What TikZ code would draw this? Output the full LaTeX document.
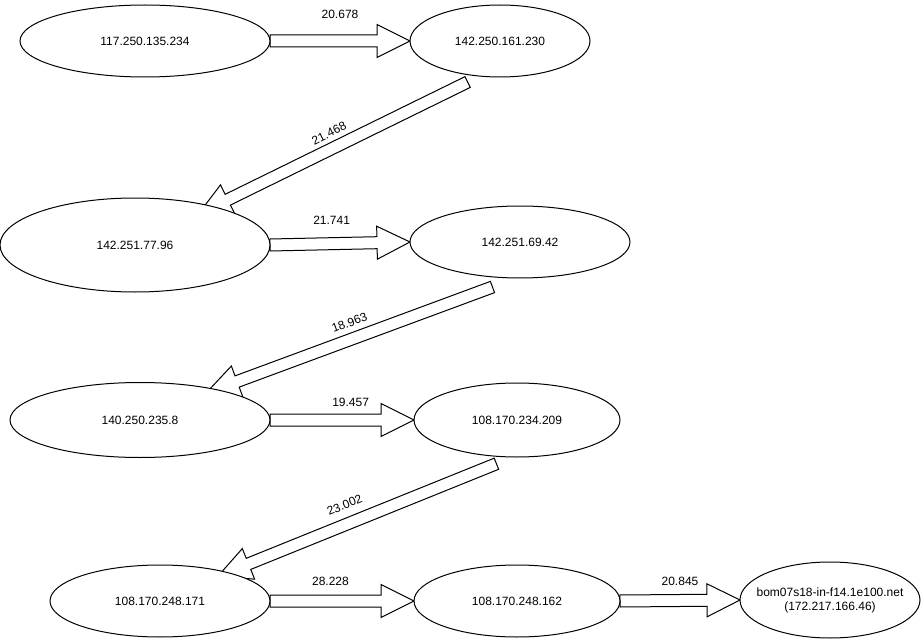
\documentclass[tikz,border=0pt]{standalone}
\usepackage{fontspec}
\setmainfont{Liberation Sans}
\usetikzlibrary{calc,shapes.geometric,backgrounds}
\tikzset{
  host/.style={ellipse, draw, fill=white, line width=1pt, inner sep=0pt, outer sep=0pt, align=center, font=\fontsize{12}{14}\selectfont},
  flex/.style={draw, fill=white, line width=1pt, line join=miter},
  lbl/.style={inner sep=0pt, font=\fontsize{12}{14}\selectfont}
}
\def\blockarrow(#1)(#2)[#3:#4][#5]#6{%
  \coordinate (bs) at ($(#1)!#3!(#2)$);
  \coordinate (bt) at ($(#2)!-#4!(#1)$);
  \coordinate (bh) at ($(bt)!33pt!(bs)$);
  \draw[flex] ($(bs)!6pt!90:(bt)$) -- ($(bh)!6pt!90:(bt)$) -- ($(bh)!16.5pt!90:(bt)$) -- (bt)
    -- ($(bh)!16.5pt!-90:(bt)$) -- ($(bh)!6pt!-90:(bt)$) -- ($(bs)!6pt!-90:(bt)$) -- cycle;
  \path (bs) -- (bt) node[lbl, #5] {#6};}

\begin{document}
\begin{tikzpicture}[x=1pt, y=1pt]
			%%%%% START %%%%%
			\useasboundingbox (0,0) rectangle (922,-642);

			\node[host, minimum width=250pt, minimum height=72pt] (n1) at (145,-41) {117.250.135.234};
			\node[host, minimum width=180pt, minimum height=72pt] (n2) at (500,-41) {142.250.161.230};
			\node[host, minimum width=270pt, minimum height=94pt] (n3) at (135,-245) {142.251.77.96};
			\node[host, minimum width=220pt, minimum height=72pt] (n4) at (520,-242) {142.251.69.42};
			\node[host, minimum width=260pt, minimum height=75pt] (n5) at (140,-420) {140.250.235.8};
			\node[host, minimum width=206pt, minimum height=74pt] (n6) at (517,-420) {108.170.234.209};
			\node[host, minimum width=220pt, minimum height=72pt] (n7) at (160,-601) {108.170.248.171};
			\node[host, minimum width=206pt, minimum height=72pt] (n8) at (517,-601) {108.170.248.162};
			\node[host, inner xsep=-14pt, minimum width=180pt, minimum height=76pt] (n9) at (830,-600) {bom07s18-in-f14.1e100.net\\(172.217.166.46)};

			\begin{scope}[on background layer]
			\blockarrow(n1.east)(n2.west)[0pt:0pt][pos=0.5, above=21.7pt]{20.678}
			\blockarrow(n2.240)(n3.26)[13.5pt:17pt][pos=0.49, sloped, above=10.5pt]{21.468}
			\blockarrow(n3.east)(n4.west)[0pt:0pt][pos=0.44, above=19pt]{21.741}
			\blockarrow(n4.265)(n5.22)[26pt:10pt][pos=0.48, sloped, above=11.8pt]{18.963}
			\blockarrow(n5.east)(n6.west)[0pt:0pt][pos=0.56, above=13pt]{19.457}
			\blockarrow(n6.264)(n7.23)[18pt:10pt][pos=0.52, sloped, above=14.2pt]{23.002}
			\blockarrow(n7.east)(n8.west)[0pt:0pt][pos=0.42, above=15pt]{28.228}
			\blockarrow(n8.east)(n9.west)[0pt:0pt][pos=0.5, above=15pt]{20.845}
			\end{scope}

			%%%%% END %%%%%
\end{tikzpicture}
\end{document}
